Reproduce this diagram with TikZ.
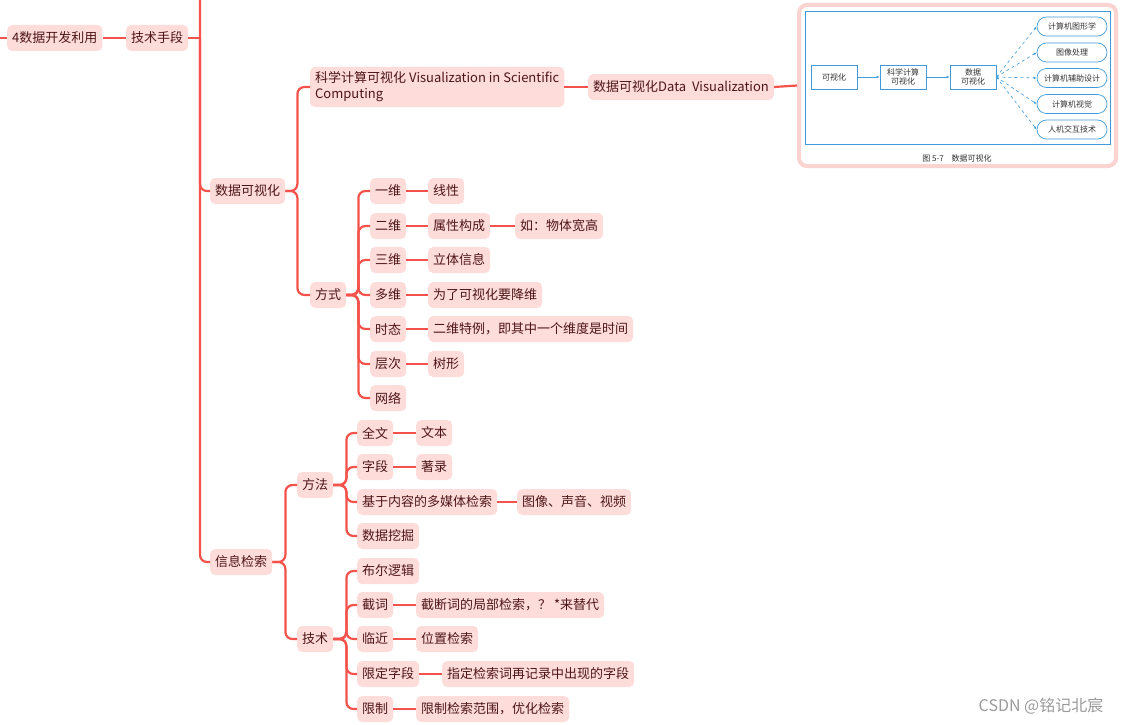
\documentclass[tikz,border=0pt]{standalone}
\usepackage{fontspec}
\setmainfont{Noto Sans CJK SC}
\usetikzlibrary{arrows.meta,calc}
\definecolor{lineRed}{HTML}{F4524B}
\definecolor{boxPink}{HTML}{FDDCDA}
\definecolor{txt}{HTML}{4E1616}
\definecolor{framePink}{HTML}{FBD3D1}
\definecolor{picBlue}{HTML}{3F9BDB}
\definecolor{picText}{HTML}{333333}
\definecolor{wm}{HTML}{9A9A9A}
\begin{document}
\begin{tikzpicture}[x=1pt,y=-1pt,
  topic/.style={fill=boxPink, rounded corners=5pt, text=txt, font=\fontsize{13}{16}\selectfont, inner xsep=5pt, inner ysep=0pt, minimum height=26pt, anchor=west},
  conn/.style={draw=lineRed, line width=2.2pt, rounded corners=7pt},
  picbox/.style={draw=picBlue, line width=0.7pt, fill=white, minimum width=46pt, minimum height=24pt, inner sep=1pt, align=center, text=picText, font=\fontsize{8}{9.5}\selectfont},
  picoval/.style={draw=picBlue, line width=0.7pt, fill=white, rounded corners=9.5pt, minimum width=70pt, minimum height=19pt, inner sep=1pt, text=picText, font=\fontsize{8}{9.5}\selectfont},
  picarrow/.style={draw=picBlue, line width=0.6pt, -{Latex[length=3pt,width=2.5pt]}},
  picdash/.style={picarrow, dashed},
]
\useasboundingbox (0,0) rectangle (1124,725);

% ---- main branch nodes
\node[topic] (root) at (7,38) {4数据开发利用};
\node[topic] (tech) at (126,38) {技术手段};
\node[topic] (vis) at (210,191) {数据可视化};
\node[topic, align=left, inner ysep=5pt] (sci) at (310,87) {科学计算可视化 Visualization in Scientific\\Computing};
\node[topic] (dv) at (588,87) {数据可视化Data\ \ Visualization};
\node[topic] (way) at (310,295) {方式};

\node[topic] (d1) at (370,191) {一维};
\node[topic] (d2) at (370,226) {二维};
\node[topic] (d3) at (370,260) {三维};
\node[topic] (dm) at (370,295) {多维};
\node[topic] (dt) at (370,329) {时态};
\node[topic] (dl) at (370,364) {层次};
\node[topic] (dn) at (370,398) {网络};

\node[topic] (g1) at (428,191) {线性};
\node[topic] (g2) at (428,226) {属性构成};
\node[topic] (g2b) at (515,226) {如：物体宽高};
\node[topic] (g3) at (428,260) {立体信息};
\node[topic] (gm) at (428,295) {为了可视化要降维};
\node[topic] (gt) at (428,329) {二维特例，即其中一个维度是时间};
\node[topic] (gl) at (428,364) {树形};

\node[topic] (ir) at (210,562) {信息检索};
\node[topic] (meth) at (297,485) {方法};
\node[topic] (tec) at (297,639) {技术};

\node[topic] (m1) at (357,433) {全文};
\node[topic] (m2) at (357,467) {字段};
\node[topic] (m3) at (357,502) {基于内容的多媒体检索};
\node[topic] (m4) at (357,536) {数据挖掘};
\node[topic] (m1c) at (416,433) {文本};
\node[topic] (m2c) at (416,467) {著录};
\node[topic] (m3c) at (517,502) {图像、声音、视频};

\node[topic] (t1) at (357,571) {布尔逻辑};
\node[topic] (t2) at (357,605) {截词};
\node[topic] (t3) at (357,639) {临近};
\node[topic] (t4) at (357,674) {限定字段};
\node[topic] (t5) at (357,709) {限制};
\node[topic] (t2c) at (416,605) {截断词的局部检索，？ *来替代};
\node[topic] (t3c) at (416,639) {位置检索};
\node[topic] (t4c) at (442,674) {指定检索词再记录中出现的字段};
\node[topic] (t5c) at (416,709) {限制检索范围，优化检索};

% ---- picture frame
\node[draw=framePink, line width=4pt, fill=white, rounded corners=8pt, minimum width=317pt, minimum height=161pt, inner sep=0pt] (img) at (957.5,85.5) {};
\draw[picBlue, line width=0.8pt] (805.5,11.5) rectangle (1110,144);
\node[picbox] (p1) at (834,77) {可视化};
\node[picbox] (p2) at (903,77) {科学计算\\可视化};
\node[picbox] (p3) at (973,77) {数据\\可视化};
\node[picoval] (o1) at (1072,26.5) {计算机图形学};
\node[picoval] (o2) at (1072,52.5) {图像处理};
\node[picoval] (o3) at (1072,78) {计算机辅助设计};
\node[picoval] (o4) at (1072,104) {计算机视觉};
\node[picoval] (o5) at (1072,129.5) {人机交互技术};
\node[text=picText, font=\fontsize{8}{9.5}\selectfont] (cap) at (957,158) {图 5-7\quad 数据可视化};
\draw[picarrow] (p1) -- (p2);
\draw[picarrow] (p2) -- (p3);
\foreach \o in {o1,o2,o3,o4,o5} \draw[picdash] (p3.east) -- (\o.west);

% ---- connectors
\coordinate (lend) at (0,38);
\coordinate (tj) at (200,38);
\coordinate (ttop) at (200,0);
\draw[conn] (lend) -- (root.west);
\draw[conn] (root.east) -- (tech.west);
\draw[conn] (tech.east) -- (tj);
\draw[conn] (ttop) -- (tj) |- (vis.west);
\draw[conn] (tj) |- (ir.west);

\draw[conn] (vis.east) -- ++(12,0) |- (sci.west);
\draw[conn] (vis.east) -- ++(12,0) |- (way.west);
\draw[conn] (sci.east) -- (dv.west);
\draw[conn] (dv.east) -- (img.west);

\foreach \c in {d1,d2,d3,dm,dt,dl,dn} \draw[conn] (way.east) -- ++(12,0) |- (\c.west);
\draw[conn] (d1.east) -- (g1.west);
\draw[conn] (d2.east) -- (g2.west);
\draw[conn] (g2.east) -- (g2b.west);
\draw[conn] (d3.east) -- (g3.west);
\draw[conn] (dm.east) -- (gm.west);
\draw[conn] (dt.east) -- (gt.west);
\draw[conn] (dl.east) -- (gl.west);

\draw[conn] (ir.east) -- ++(13,0) |- (meth.west);
\draw[conn] (ir.east) -- ++(13,0) |- (tec.west);
\foreach \c in {m1,m2,m3,m4} \draw[conn] (meth.east) -- ++(13,0) |- (\c.west);
\draw[conn] (m1.east) -- (m1c.west);
\draw[conn] (m2.east) -- (m2c.west);
\draw[conn] (m3.east) -- (m3c.west);
\foreach \c in {t1,t2,t3,t4,t5} \draw[conn] (tec.east) -- ++(13,0) |- (\c.west);
\draw[conn] (t2.east) -- (t2c.west);
\draw[conn] (t3.east) -- (t3c.west);
\draw[conn] (t4.east) -- (t4c.west);
\draw[conn] (t5.east) -- (t5c.west);

% ---- watermark
\node[text=wm, font=\fontsize{16}{19}\selectfont] (wmk) at (1041,706) {CSDN @铭记北宸};
\end{tikzpicture}
\end{document}
